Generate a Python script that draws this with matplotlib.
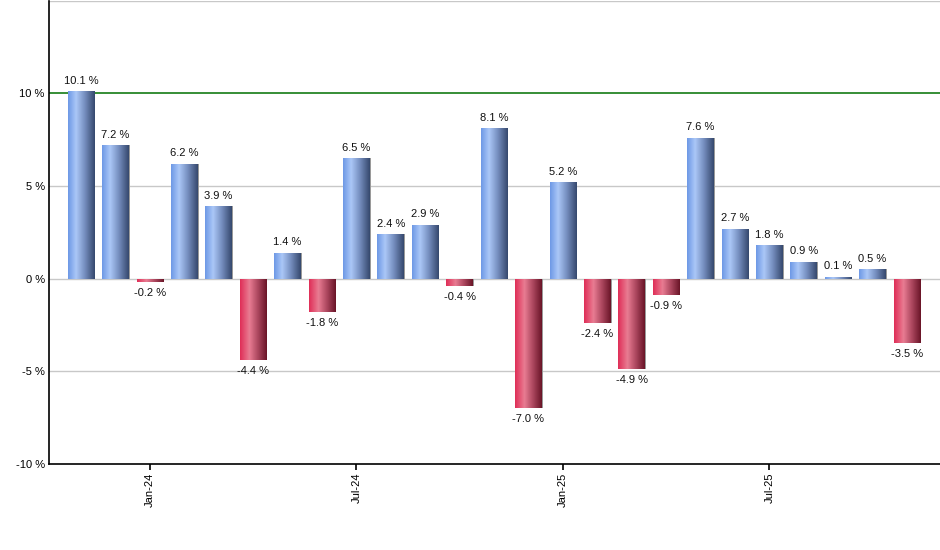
import numpy as np
import matplotlib.pyplot as plt
from matplotlib.colors import LinearSegmentedColormap

# monthly change, Nov-23 .. Nov-25
months = ['Nov-23', 'Dec-23', 'Jan-24', 'Feb-24', 'Mar-24', 'Apr-24', 'May-24',
          'Jun-24', 'Jul-24', 'Aug-24', 'Sep-24', 'Oct-24', 'Nov-24', 'Dec-24',
          'Jan-25', 'Feb-25', 'Mar-25', 'Apr-25', 'May-25', 'Jun-25', 'Jul-25',
          'Aug-25', 'Sep-25', 'Oct-25', 'Nov-25']
values = [10.1, 7.2, -0.2, 6.2, 3.9, -4.4, 1.4, -1.8, 6.5, 2.4, 2.9, -0.4, 8.1,
          -7.0, 5.2, -2.4, -4.9, -0.9, 7.6, 2.7, 1.8, 0.9, 0.1, 0.5, -3.5]
tick_months = ['Jan-24', 'Jul-24', 'Jan-25', 'Jul-25']
y_ticks = [-10, -5, 0, 5, 10]

plt.rcParams['font.family'] = ['Liberation Sans', 'DejaVu Sans']

blue_cm = LinearSegmentedColormap.from_list(
    'b', [(0, '#6e99e6'), (0.3, '#abc7f7'), (0.6, '#7a93c4'), (1, '#36496e')])
red_cm = LinearSegmentedColormap.from_list(
    'r', [(0, '#df2f58'), (0.35, '#e87c92'), (0.65, '#b04a62'), (1, '#6a1528')])
grad = np.linspace(0, 1, 64).reshape(1, -1)

fig = plt.figure(figsize=(9.4, 5.5), dpi=100)
ax = fig.add_axes([49 / 940, 86 / 550, 891 / 940, 463.5 / 550])

x = np.arange(len(values))
width = 0.77

for yv in [-5, 0, 5, 15]:
    ax.axhline(yv, color='#c8c8c8', lw=1, zorder=1)
ax.axhline(10, color='#007000', lw=1.1, zorder=1)

bars = ax.bar(x, values, width=width, color='none', edgecolor='none', zorder=2)
for xi, v, b in zip(x, values, bars):
    # thin grey shadow on the right side
    ax.bar(xi + 0.03, v, width=width, color='#9a9a9a', zorder=1.5)
    cm = blue_cm if v >= 0 else red_cm
    im = ax.imshow(grad, cmap=cm, aspect='auto', zorder=3,
                   extent=[xi - width / 2, xi + width / 2, min(0, v), max(0, v)])
    im.set_clip_path(b)
    if v >= 0:
        ax.annotate(f'{v:.1f} %', (xi, v), xytext=(0, 4), textcoords='offset points',
                    ha='center', va='bottom', fontsize=8, color='#111111')
    else:
        ax.annotate(f'{v:.1f} %', (xi, v), xytext=(0, -4), textcoords='offset points',
                    ha='center', va='top', fontsize=8, color='#111111')

ax.set_xlim(-0.93, 24.96)
ax.set_ylim(-10, 15)

ax.set_xticks([months.index(m) for m in tick_months])
ax.set_xticklabels(tick_months, rotation=90, fontsize=8)
ax.set_yticks(y_ticks)
ax.set_yticklabels([f'{t} %' for t in y_ticks], fontsize=8)
ax.tick_params(axis='y', length=0, pad=3)
ax.tick_params(axis='x', length=4, width=1.2, pad=2)

for s in ['top', 'right']:
    ax.spines[s].set_visible(False)
for s in ['left', 'bottom']:
    ax.spines[s].set_linewidth(1.2)
    ax.spines[s].set_zorder(5)

fig.savefig('out.png', dpi=100)
